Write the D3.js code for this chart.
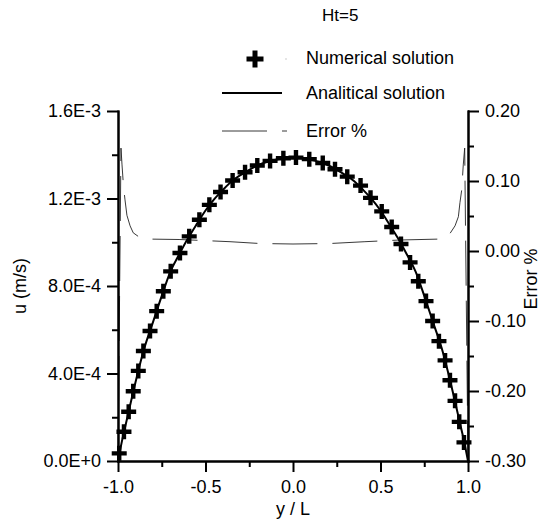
<!DOCTYPE html>
<html>
<head>
<meta charset="utf-8">
<script src="https://d3js.org/d3.v7.min.js"></script>
<style>
  body { margin: 0; background: #fff; }
  text { font-family: Arial, "Liberation Sans", sans-serif; fill: #000; }
  .axis path, .axis line { stroke: #000; stroke-width: 2; }
</style>
</head>
<body>
<svg id="chart" width="543" height="524"></svg>
<script>
// numerical solution (crosses): y/L and u (m/s)
const numX = [-0.993, -0.966, -0.939, -0.913, -0.884, -0.855, -0.817, -0.779, -0.741, -0.699,
              -0.646, -0.593, -0.535, -0.478, -0.414, -0.345, -0.274, -0.204, -0.131, -0.055,
               0.017,  0.093,  0.170,  0.240,  0.310,  0.386,  0.443,  0.507,  0.564,  0.617,
               0.669,  0.716,  0.760,  0.798,  0.834,  0.869,  0.897,  0.926,  0.950,  0.977];
const numU = [0.035e-3, 0.134e-3, 0.225e-3, 0.319e-3, 0.412e-3, 0.503e-3, 0.594e-3, 0.685e-3, 0.776e-3, 0.867e-3,
              0.951e-3, 1.027e-3, 1.103e-3, 1.171e-3, 1.230e-3, 1.282e-3, 1.320e-3, 1.351e-3, 1.372e-3, 1.384e-3,
              1.387e-3, 1.380e-3, 1.362e-3, 1.334e-3, 1.300e-3, 1.259e-3, 1.203e-3, 1.141e-3, 1.070e-3, 0.992e-3,
              0.908e-3, 0.822e-3, 0.731e-3, 0.640e-3, 0.548e-3, 0.460e-3, 0.369e-3, 0.275e-3, 0.179e-3, 0.085e-3];

// analytical solution (line)
const anaX = [-1.0, -0.975, -0.95, -0.9, -0.85, -0.8, -0.75, -0.7, -0.65, -0.6, -0.55, -0.5, -0.45, -0.4,
              -0.35, -0.3, -0.25, -0.2, -0.15, -0.1, -0.05, 0.0, 0.05, 0.1, 0.15, 0.2, 0.25, 0.3, 0.35,
               0.4, 0.45, 0.5, 0.55, 0.6, 0.65, 0.7, 0.75, 0.8, 0.85, 0.9, 0.95, 0.975, 1.0];
const anaU = [0, 0.100e-3, 0.187e-3, 0.360e-3, 0.515e-3, 0.635e-3, 0.755e-3, 0.867e-3, 0.945e-3, 1.018e-3,
              1.083e-3, 1.145e-3, 1.197e-3, 1.240e-3, 1.279e-3, 1.307e-3, 1.331e-3, 1.352e-3, 1.367e-3,
              1.377e-3, 1.384e-3, 1.387e-3, 1.384e-3, 1.377e-3, 1.367e-3, 1.352e-3, 1.331e-3, 1.307e-3,
              1.279e-3, 1.240e-3, 1.197e-3, 1.145e-3, 1.083e-3, 1.018e-3, 0.945e-3, 0.867e-3, 0.755e-3,
              0.635e-3, 0.515e-3, 0.360e-3, 0.187e-3, 0.100e-3, 0];

// error % (right axis)
const errX = [-1.0, -0.983, -0.977, -0.969, -0.96, -0.949, -0.931, -0.913, -0.874, -0.817, -0.646, -0.36,
              -0.189, 0.0, 0.211, 0.411, 0.611, 0.834, 0.874, 0.897, 0.926, 0.945, 0.954, 0.964, 0.973,
               0.981, 1.0];
const errV = [-0.30, 0.147, 0.123, 0.094, 0.073, 0.051, 0.036, 0.026, 0.019, 0.017, 0.0164, 0.0133,
              0.0107, 0.0100, 0.0107, 0.0133, 0.0157, 0.017, 0.019, 0.025, 0.036, 0.049, 0.069, 0.087,
              0.123, 0.147, -0.30];

// ticks
const xTicks = [-1.0, -0.5, 0.0, 0.5, 1.0];
const xTickLabels = ["-1.0", "-0.5", "0.0", "0.5", "1.0"];
const xMinor = [-0.75, -0.25, 0.25, 0.75];
const uTicks = [0, 0.4e-3, 0.8e-3, 1.2e-3, 1.6e-3];
const uTickLabels = ["0.0E+0", "4.0E-4", "8.0E-4", "1.2E-3", "1.6E-3"];
const uMinor = [0.2e-3, 0.6e-3, 1.0e-3, 1.4e-3];
const eTicks = [-0.3, -0.2, -0.1, 0.0, 0.1, 0.2];
const eTickLabels = ["-0.30", "-0.20", "-0.10", "0.00", "0.10", "0.20"];
const eMinor = [-0.25, -0.15, -0.05, 0.05, 0.15];

const svg = d3.select("svg#chart");
const margin = {top: 111, right: 75, bottom: 63, left: 118};
const width = +svg.attr("width");
const height = +svg.attr("height");
const chartWidth = width - margin.left - margin.right;
const chartHeight = height - margin.top - margin.bottom;
const fontSize = 18;

const xScale = d3.scaleLinear().domain([-1, 1]).range([0, chartWidth]);
const uScale = d3.scaleLinear().domain([0, 1.6e-3]).range([chartHeight, 0]);
const eScale = d3.scaleLinear().domain([-0.3, 0.2]).range([chartHeight, 0]);

const chart = svg.append("g")
                 .attr("transform", `translate(${margin.left}, ${margin.top})`);

// error curve
const errLine = d3.line()
                  .x(d => xScale(d[0]))
                  .y(d => eScale(d[1]));
chart.append("path")
     .datum(errX.map((x, i) => [x, errV[i]]))
     .attr("d", errLine)
     .attr("fill", "none")
     .attr("stroke", "#222")
     .attr("stroke-width", 0.9)
     .attr("stroke-dasharray", "45,15");

// analytical line
const anaLine = d3.line()
                  .x(d => xScale(d[0]))
                  .y(d => uScale(d[1]))
                  .curve(d3.curveMonotoneX);
chart.append("path")
     .datum(anaX.map((x, i) => [x, anaU[i]]))
     .attr("d", anaLine)
     .attr("fill", "none")
     .attr("stroke", "#000")
     .attr("stroke-width", 2);

// numerical crosses
const cross = s => `M${-s},0H${s}M0,${-s}V${s}`;
chart.selectAll(".num")
     .data(numX.map((x, i) => [x, numU[i]]))
     .join("path")
     .attr("class", "num")
     .attr("transform", d => `translate(${xScale(d[0])}, ${uScale(d[1])})`)
     .attr("d", cross(7.5))
     .attr("stroke", "#000")
     .attr("stroke-width", 4.4)
     .attr("fill", "none");

// axes
function drawAxis(axisFn, scale, major, labels, minor, transform, isBottom) {
    const g = svg.append("g")
                 .attr("class", "axis")
                 .attr("transform", transform);
    g.call(axisFn(scale).tickValues(minor).tickSize(6).tickSizeOuter(0).tickFormat(""));
    g.append("g")
     .call(axisFn(scale).tickValues(major).tickSize(11).tickSizeOuter(0).tickPadding(isBottom ? 8 : 6)
                        .tickFormat((d, i) => labels[i]));
    g.selectAll("text")
     .attr("fill", "#000")
     .style("font-size", fontSize + "px")
     .style("font-family", "Arial, 'Liberation Sans', sans-serif");
    g.selectAll(".domain").attr("stroke-linecap", "square");
    return g;
}
drawAxis(d3.axisBottom, xScale, xTicks, xTickLabels, xMinor,
         `translate(${margin.left}, ${margin.top + chartHeight})`, true);
drawAxis(d3.axisLeft, uScale, uTicks, uTickLabels, uMinor,
         `translate(${margin.left}, ${margin.top})`, false);
drawAxis(d3.axisRight, eScale, eTicks, eTickLabels, eMinor,
         `translate(${margin.left + chartWidth}, ${margin.top})`, false);

// axis titles
svg.append("text")
   .attr("x", margin.left + chartWidth / 2)
   .attr("y", 515)
   .attr("text-anchor", "middle")
   .style("font-size", fontSize + "px")
   .text("y / L");
svg.append("text")
   .attr("transform", `translate(26, 286) rotate(-90)`)
   .attr("text-anchor", "middle")
   .style("font-size", fontSize + "px")
   .text("u (m/s)");
svg.append("text")
   .attr("transform", `translate(537, 279) rotate(-90)`)
   .attr("text-anchor", "middle")
   .style("font-size", fontSize + "px")
   .text("Error %");

// title
svg.append("text")
   .attr("x", 322)
   .attr("y", 21)
   .style("font-size", "17px")
   .text("Ht=5");

// legend
const legend = svg.append("g");
legend.append("path")
      .attr("transform", "translate(255, 59)")
      .attr("d", cross(8.5))
      .attr("stroke", "#000")
      .attr("stroke-width", 5)
      .attr("fill", "none");
legend.append("rect")
      .attr("x", 285.5).attr("y", 58.5).attr("width", 1).attr("height", 1)
      .attr("fill", "#999");
legend.append("line")
      .attr("x1", 222).attr("x2", 282).attr("y1", 93).attr("y2", 93)
      .attr("stroke", "#000").attr("stroke-width", 2);
legend.append("line")
      .attr("x1", 222).attr("x2", 287).attr("y1", 131).attr("y2", 131)
      .attr("stroke", "#222").attr("stroke-width", 0.9)
      .attr("stroke-dasharray", "45,15");
const legendLabels = ["Numerical solution", "Analitical solution", "Error %"];
const legendY = [64, 99, 137];
legendLabels.forEach((t, i) => {
    legend.append("text")
          .attr("x", 306)
          .attr("y", legendY[i])
          .style("font-size", fontSize + "px")
          .text(t);
});
</script>
</body>
</html>
